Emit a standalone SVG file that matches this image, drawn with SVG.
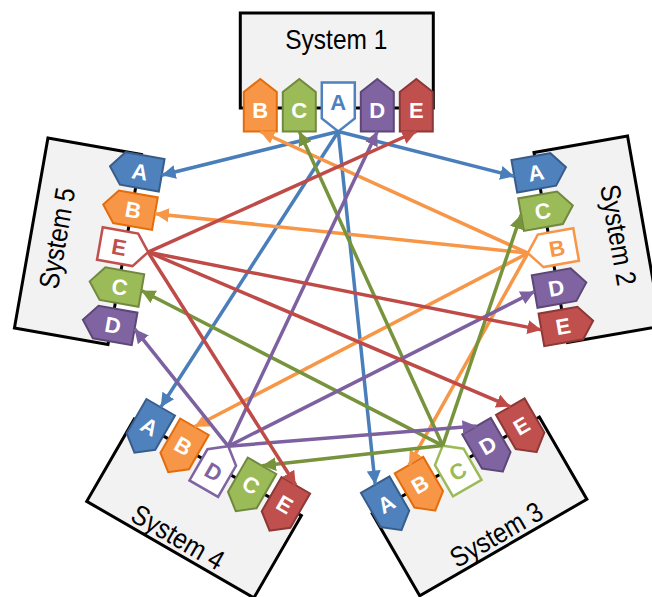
<svg xmlns="http://www.w3.org/2000/svg" xmlns:xlink="http://www.w3.org/1999/xlink" width="652" height="597" viewBox="0 0 652 597">
<style>
.box{fill:#f2f2f2;stroke:#000;stroke-width:3}
.lbl{font-family:"Liberation Sans",Arial,sans-serif;font-size:28px;fill:#000;text-anchor:middle}
.lt{font-family:"Liberation Sans",Arial,sans-serif;font-size:22px;font-weight:bold;fill:#fff;text-anchor:middle}
.fA{fill:#4f81bd;stroke:#385d8a;stroke-width:2}
.fB{fill:#f79646;stroke:#e46c0a;stroke-width:2}
.fC{fill:#9bbb59;stroke:#71893f;stroke-width:2}
.fD{fill:#8064a2;stroke:#5c4776;stroke-width:2}
.fE{fill:#c0504d;stroke:#8c3836;stroke-width:2}
.oA{fill:#fff;stroke:#4f81bd;stroke-width:2.5}
.oB{fill:#fff;stroke:#f79646;stroke-width:2.5}
.oC{fill:#fff;stroke:#9bbb59;stroke-width:2.5}
.oD{fill:#fff;stroke:#8064a2;stroke-width:2.5}
.oE{fill:#fff;stroke:#c0504d;stroke-width:2.5}
.tA{fill:#4f81bd}.tB{fill:#f79646}.tC{fill:#9bbb59}.tD{fill:#8064a2}.tE{fill:#c0504d}
.cn{stroke-width:3.5;fill:none}
.cA{stroke:#4a7ebb;marker-end:url(#mA)}
.cB{stroke:#f79646;marker-end:url(#mB)}
.cC{stroke:#77933c;marker-end:url(#mC)}
.cD{stroke:#7d60a0;marker-end:url(#mD)}
.cE{stroke:#be4b48;marker-end:url(#mE)}
</style>
<defs>
<polygon id="inTag" points="0,-29 16.5,-16 16.5,23.5 -16.5,23.5 -16.5,-16"/>
<polygon id="ownTag" points="-16.5,-25.5 16.5,-25.5 16.5,10.5 0,23.5 -16.5,10.5"/>
<marker id="mA" markerUnits="userSpaceOnUse" markerWidth="15" markerHeight="15" refX="14" refY="7" orient="auto"><path d="M0,0 L14,7 L0,14 z" fill="#4a7ebb"/></marker>
<marker id="mB" markerUnits="userSpaceOnUse" markerWidth="15" markerHeight="15" refX="14" refY="7" orient="auto"><path d="M0,0 L14,7 L0,14 z" fill="#f79646"/></marker>
<marker id="mC" markerUnits="userSpaceOnUse" markerWidth="15" markerHeight="15" refX="14" refY="7" orient="auto"><path d="M0,0 L14,7 L0,14 z" fill="#77933c"/></marker>
<marker id="mD" markerUnits="userSpaceOnUse" markerWidth="15" markerHeight="15" refX="14" refY="7" orient="auto"><path d="M0,0 L14,7 L0,14 z" fill="#7d60a0"/></marker>
<marker id="mE" markerUnits="userSpaceOnUse" markerWidth="15" markerHeight="15" refX="14" refY="7" orient="auto"><path d="M0,0 L14,7 L0,14 z" fill="#be4b48"/></marker>
</defs>

<g id="system1" transform="translate(338.3,108)">
<rect class="box" x="-98" y="-95" width="193" height="95"/>
<text class="lbl" x="-2" y="-59" textLength="102" lengthAdjust="spacingAndGlyphs">System 1</text>
<g id="s1-B" transform="translate(-78,0)"><use href="#inTag" class="fB"/><text class="lt" y="9.5">B</text></g>
<g id="s1-C" transform="translate(-39,0)"><use href="#inTag" class="fC"/><text class="lt" y="9.5">C</text></g>
<g id="s1-A" transform="translate(0,0)"><use href="#ownTag" class="oA"/><text class="lt tA" y="2">A</text></g>
<g id="s1-D" transform="translate(39,0)"><use href="#inTag" class="fD"/><text class="lt" y="9.5">D</text></g>
<g id="s1-E" transform="translate(78,0)"><use href="#inTag" class="fE"/><text class="lt" y="9.5">E</text></g>
</g>

<g id="system2" transform="translate(551,249) rotate(80)">
<rect class="box" x="-98" y="-95" width="193" height="95"/>
<text class="lbl" x="-2" y="-59" textLength="102" lengthAdjust="spacingAndGlyphs">System 2</text>
<g id="s2-A" transform="translate(-78,0)"><use href="#inTag" class="fA"/><g transform="translate(0,1.5) rotate(-90)"><text class="lt" y="8">A</text></g></g>
<g id="s2-C" transform="translate(-39,0)"><use href="#inTag" class="fC"/><g transform="translate(0,1.5) rotate(-90)"><text class="lt" y="8">C</text></g></g>
<g id="s2-B" transform="translate(0,0)"><use href="#ownTag" class="oB"/><g transform="translate(0,-6) rotate(-90)"><text class="lt tB" y="8">B</text></g></g>
<g id="s2-D" transform="translate(39,0)"><use href="#inTag" class="fD"/><g transform="translate(0,1.5) rotate(-90)"><text class="lt" y="8">D</text></g></g>
<g id="s2-E" transform="translate(78,0)"><use href="#inTag" class="fE"/><g transform="translate(0,1.5) rotate(-90)"><text class="lt" y="8">E</text></g></g>
</g>

<g id="system3" transform="translate(454.5,466) rotate(150)">
<rect class="box" x="-98" y="-95" width="193" height="95"/>
<g transform="translate(-2,-80) rotate(180)"><text class="lbl" y="10" textLength="102" lengthAdjust="spacingAndGlyphs">System 3</text></g>
<g id="s3-E" transform="translate(-78,0)"><use href="#inTag" class="fE"/><g transform="translate(0,1.5) rotate(180)"><text class="lt" y="8">E</text></g></g>
<g id="s3-D" transform="translate(-39,0)"><use href="#inTag" class="fD"/><g transform="translate(0,1.5) rotate(180)"><text class="lt" y="8">D</text></g></g>
<g id="s3-C" transform="translate(0,0)"><use href="#ownTag" class="oC"/><g transform="translate(0,-6) rotate(180)"><text class="lt tC" y="8">C</text></g></g>
<g id="s3-B" transform="translate(39,0)"><use href="#inTag" class="fB"/><g transform="translate(0,1.5) rotate(180)"><text class="lt" y="8">B</text></g></g>
<g id="s3-A" transform="translate(78,0)"><use href="#inTag" class="fA"/><g transform="translate(0,1.5) rotate(180)"><text class="lt" y="8">A</text></g></g>
</g>

<g id="system4" transform="translate(216.5,466.6) rotate(210)">
<rect class="box" x="-98" y="-95" width="193" height="95"/>
<g transform="translate(-2,-80) rotate(180)"><text class="lbl" y="10" textLength="102" lengthAdjust="spacingAndGlyphs">System 4</text></g>
<g id="s4-E" transform="translate(-78,0)"><use href="#inTag" class="fE"/><g transform="translate(0,1.5) rotate(180)"><text class="lt" y="8">E</text></g></g>
<g id="s4-C" transform="translate(-39,0)"><use href="#inTag" class="fC"/><g transform="translate(0,1.5) rotate(180)"><text class="lt" y="8">C</text></g></g>
<g id="s4-D" transform="translate(0,0)"><use href="#ownTag" class="oD"/><g transform="translate(0,-6) rotate(180)"><text class="lt tD" y="8">D</text></g></g>
<g id="s4-B" transform="translate(39,0)"><use href="#inTag" class="fB"/><g transform="translate(0,1.5) rotate(180)"><text class="lt" y="8">B</text></g></g>
<g id="s4-A" transform="translate(78,0)"><use href="#inTag" class="fA"/><g transform="translate(0,1.5) rotate(180)"><text class="lt" y="8">A</text></g></g>
</g>

<g id="system5" transform="translate(125,248) rotate(-80)">
<rect class="box" x="-98" y="-95" width="193" height="95"/>
<text class="lbl" x="-2" y="-59" textLength="102" lengthAdjust="spacingAndGlyphs">System 5</text>
<g id="s5-D" transform="translate(-78,0)"><use href="#inTag" class="fD"/><g transform="translate(0,1.5) rotate(90)"><text class="lt" y="8">D</text></g></g>
<g id="s5-C" transform="translate(-39,0)"><use href="#inTag" class="fC"/><g transform="translate(0,1.5) rotate(90)"><text class="lt" y="8">C</text></g></g>
<g id="s5-E" transform="translate(0,0)"><use href="#ownTag" class="oE"/><g transform="translate(0,-6) rotate(90)"><text class="lt tE" y="8">E</text></g></g>
<g id="s5-B" transform="translate(39,0)"><use href="#inTag" class="fB"/><g transform="translate(0,1.5) rotate(90)"><text class="lt" y="8">B</text></g></g>
<g id="s5-A" transform="translate(78,0)"><use href="#inTag" class="fA"/><g transform="translate(0,1.5) rotate(90)"><text class="lt" y="8">A</text></g></g>
</g>

<g id="connectors" class="cn">
<line class="cA" x1="338.3" y1="131.5" x2="161.6" y2="175.3"/>
<line class="cA" x1="338.3" y1="131.5" x2="514.3" y2="176.3"/>
<line class="cA" x1="338.3" y1="131.5" x2="375.2" y2="484.6"/>
<line class="cA" x1="338.3" y1="131.5" x2="160.7" y2="407.2"/>
<line class="cB" x1="527.9" y1="253.1" x2="260.3" y2="131.5"/>
<line class="cB" x1="527.9" y1="253.1" x2="154.9" y2="213.7"/>
<line class="cB" x1="527.9" y1="253.1" x2="409" y2="465.1"/>
<line class="cB" x1="527.9" y1="253.1" x2="194.5" y2="426.7"/>
<line class="cC" x1="442.7" y1="445.6" x2="299.3" y2="131.5"/>
<line class="cC" x1="442.7" y1="445.6" x2="521.1" y2="214.7"/>
<line class="cC" x1="442.7" y1="445.6" x2="141.3" y2="290.5"/>
<line class="cC" x1="442.7" y1="445.6" x2="262" y2="465.7"/>
<line class="cD" x1="228.2" y1="446.2" x2="377.3" y2="131.5"/>
<line class="cD" x1="228.2" y1="446.2" x2="534.6" y2="291.5"/>
<line class="cD" x1="228.2" y1="446.2" x2="476.5" y2="426.1"/>
<line class="cD" x1="228.2" y1="446.2" x2="134.6" y2="328.9"/>
<line class="cE" x1="148.1" y1="252.1" x2="416.3" y2="131.5"/>
<line class="cE" x1="148.1" y1="252.1" x2="541.4" y2="329.9"/>
<line class="cE" x1="148.1" y1="252.1" x2="510.3" y2="406.6"/>
<line class="cE" x1="148.1" y1="252.1" x2="295.8" y2="485.2"/>
</g>
</svg>
